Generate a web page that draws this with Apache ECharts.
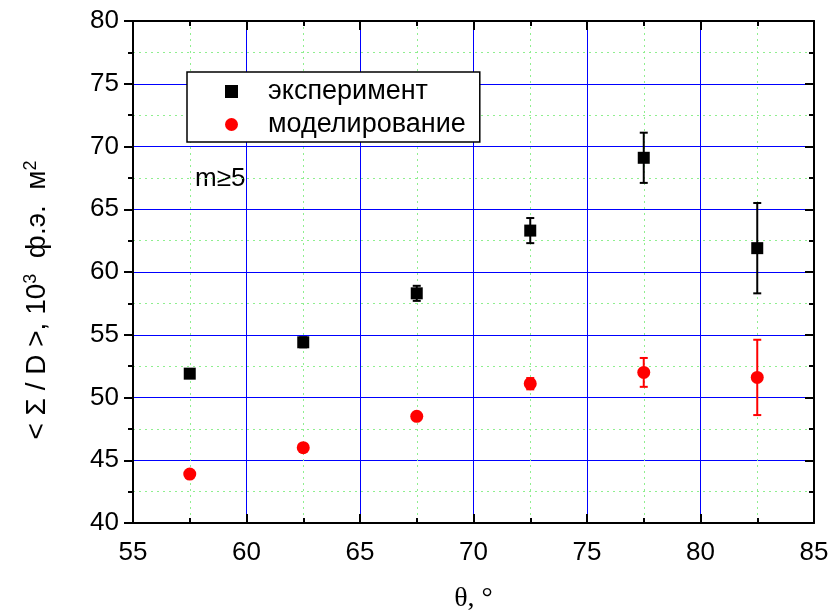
<!DOCTYPE html>
<html>
<head>
<meta charset="utf-8">
<script src="https://cdn.jsdelivr.net/npm/echarts@6/dist/echarts.min.js"></script>
<style>
  html, body { margin: 0; padding: 0; background: #fff; }
  #chart { width: 832px; height: 611px; }
</style>
</head>
<body>
<div id="chart"></div>
<script>
  // угол θ, градусы
  const theta = [57.5, 62.5, 67.5, 72.5, 77.5, 82.5]
  // эксперимент
  const expValues = [51.9, 54.4, 58.3, 63.3, 69.1, 61.9]
  const expErrors = [0.2, 0.4, 0.6, 1.0, 2.0, 3.6]
  // моделирование
  const modValues = [43.9, 46.0, 48.5, 51.1, 52.0, 51.6]
  const modErrors = [0.1, 0.1, 0.1, 0.45, 1.15, 3.0]

  const FONT = 'Liberation Sans, Arial, sans-serif'

  const chart = echarts.init(document.getElementById('chart'))

  function pairs(xs, ys) {
    return xs.map((x, i) => [x, ys[i]])
  }
  function errData(xs, ys, es) {
    return xs.map((x, i) => [x, ys[i] - es[i], ys[i] + es[i]])
  }

  function errorBar(color) {
    return function (params, api) {
      const lo = api.coord([api.value(0), api.value(1)])
      const hi = api.coord([api.value(0), api.value(2)])
      const cap = 4
      const style = { stroke: color, lineWidth: 2 }
      return {
        type: 'group',
        children: [
          { type: 'line', shape: { x1: lo[0], y1: lo[1], x2: hi[0], y2: hi[1] }, style },
          { type: 'line', shape: { x1: lo[0] - cap, y1: lo[1], x2: lo[0] + cap, y2: lo[1] }, style },
          { type: 'line', shape: { x1: hi[0] - cap, y1: hi[1], x2: hi[0] + cap, y2: hi[1] }, style }
        ]
      }
    }
  }

  const tickStyle = { color: '#000', width: 2 }

  chart.setOption({
    backgroundColor: '#fff',
    animation: false,
    grid: { left: 133, right: 18, top: 21, bottom: 88, containLabel: false, outerBoundsMode: 'none' },
    legend: {
      orient: 'vertical',
      left: 187,
      top: 72,
      padding: [6, 14, 4, 38],
      itemGap: 6,
      itemWidth: 13,
      itemHeight: 13,
      backgroundColor: '#fff',
      borderColor: '#000',
      borderWidth: 1.5,
      textStyle: { fontFamily: FONT, fontSize: 27, color: '#000', padding: [0, 0, 0, 25] },
      data: ['эксперимент', 'моделирование']
    },
    xAxis: [
      {
        type: 'value', min: 55, max: 85, interval: 5, position: 'bottom',
        name: 'θ, °',
        nameLocation: 'middle',
        nameGap: 62,
        nameTextStyle: { fontFamily: 'Liberation Serif, Times New Roman, serif', fontSize: 28, color: '#000' },
        axisLine: { show: true, onZero: false, lineStyle: { color: '#000', width: 2 } },
        axisTick: { show: true, inside: true, length: 9, lineStyle: tickStyle },
        minorTick: { show: true, splitNumber: 2, length: 5, lineStyle: tickStyle },
        axisLabel: { fontFamily: FONT, fontSize: 26, color: '#000', margin: 17 },
        splitLine: { show: true, lineStyle: { color: '#0000ff', width: 1 } },
        minorSplitLine: { show: true, lineStyle: { color: '#8fef8f', width: 1, type: [2, 4] } }
      },
      {
        type: 'value', min: 55, max: 85, interval: 5, position: 'top',
        axisLine: { show: true, onZero: false, lineStyle: { color: '#000', width: 2 } },
        axisTick: { show: true, inside: true, length: 9, lineStyle: tickStyle },
        minorTick: { show: true, splitNumber: 2, length: 5, lineStyle: tickStyle },
        axisLabel: { show: false },
        splitLine: { show: false },
        minorSplitLine: { show: false }
      }
    ],
    yAxis: [
      {
        type: 'value', min: 40, max: 80, interval: 5, position: 'left',
        axisLine: { show: true, onZero: false, lineStyle: { color: '#000', width: 2 } },
        axisTick: { show: true, length: 9, lineStyle: tickStyle },
        minorTick: { show: true, splitNumber: 2, length: 5, lineStyle: tickStyle },
        axisLabel: { fontFamily: FONT, fontSize: 26, color: '#000', margin: 14 },
        splitLine: { show: true, lineStyle: { color: '#0000ff', width: 1 } },
        minorSplitLine: { show: true, lineStyle: { color: '#8fef8f', width: 1, type: [2, 4] } }
      },
      {
        type: 'value', min: 40, max: 80, interval: 5, position: 'right',
        axisLine: { show: true, onZero: false, lineStyle: { color: '#000', width: 2 } },
        axisTick: { show: true, inside: true, length: 9, lineStyle: tickStyle },
        minorTick: { show: true, splitNumber: 2, length: 5, lineStyle: tickStyle },
        axisLabel: { show: false },
        splitLine: { show: false },
        minorSplitLine: { show: false }
      }
    ],
    graphic: [
      {
        type: 'text',
        left: 195,
        top: 166,
        style: { text: 'm≥5', fontFamily: FONT, fontSize: 26, fill: '#000' }
      },
      {
        type: 'text',
        x: 37,
        y: 300,
        rotation: Math.PI / 2,
        style: {
          text: '< Σ / D >, 10{sup|3}  ф.э.  м{sup|2}',
          fontFamily: FONT,
          fontSize: 28,
          fill: '#000',
          align: 'center',
          verticalAlign: 'middle',
          rich: {
            sup: { fontFamily: FONT, fontSize: 18, fill: '#000', verticalAlign: 'top', padding: [0, 0, 12, 0] }
          }
        }
      }
    ],
    series: [
      {
        name: 'эксперимент-err',
        type: 'custom',
        renderItem: errorBar('#000'),
        encode: { x: 0, y: [1, 2] },
        data: errData(theta, expValues, expErrors),
        z: 3
      },
      {
        name: 'моделирование-err',
        type: 'custom',
        renderItem: errorBar('#ff0000'),
        encode: { x: 0, y: [1, 2] },
        data: errData(theta, modValues, modErrors),
        z: 3
      },
      {
        name: 'эксперимент',
        type: 'scatter',
        symbol: 'rect',
        symbolSize: 12,
        itemStyle: { color: '#000', opacity: 1 },
        data: pairs(theta, expValues),
        z: 4
      },
      {
        name: 'моделирование',
        type: 'scatter',
        symbol: 'circle',
        symbolSize: 13,
        itemStyle: { color: '#ff0000', opacity: 1 },
        data: pairs(theta, modValues),
        z: 4
      }
    ]
  })
</script>
</body>
</html>
